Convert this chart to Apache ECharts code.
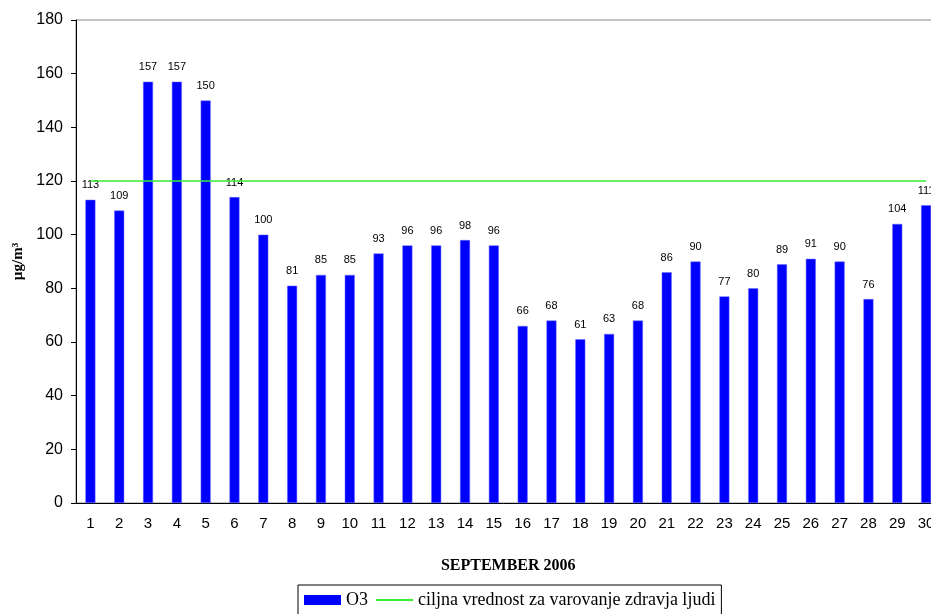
<!DOCTYPE html>
<html>
<head>
    <meta charset="utf-8">
    <title>O3 september 2006</title>
    <script src="https://cdn.jsdelivr.net/npm/echarts@6/dist/echarts.min.js"></script>
</head>
<body style="margin:0">
    <div id="chart" style="width: 931px;height:614px;"></div>
    <script type="text/javascript">
        // dnevi v mesecu
        var days = ['1','2','3','4','5','6','7','8','9','10','11','12','13','14','15',
                    '16','17','18','19','20','21','22','23','24','25','26','27','28','29','30'];
        // O3 vrednosti
        var o3 = [113, 109, 157, 157, 150, 114, 100, 81, 85, 85, 93, 96, 96, 98, 96,
                  66, 68, 61, 63, 68, 86, 90, 77, 80, 89, 91, 90, 76, 104, 111];
        // ciljna vrednost
        var target = 120;
        var targetLine = days.map(function () { return target; });

        var sans = '"Liberation Sans", Arial, sans-serif';
        var serif = '"Liberation Serif", "Times New Roman", serif';

        var myChart = echarts.init(document.getElementById('chart'));
        var option = {
            animation: false,
            grid: {
                left: 76,
                width: 864.5,
                top: 20,
                height: 483,
                outerBoundsMode: 'none',
                show: true,
                borderColor: '#888',
                borderWidth: 1
            },
            legend: {
                left: 298,
                top: 585,
                padding: [6, 6, 12, 6],
                borderColor: '#000',
                borderWidth: 1,
                itemGap: 7,
                itemWidth: 37,
                itemHeight: 10,
                textStyle: { fontFamily: serif, fontSize: 18, color: '#000' },
                data: [
                    { name: 'O3', icon: 'rect', itemStyle: { borderWidth: 0 } },
                    { name: 'ciljna vrednost za varovanje zdravja ljudi', itemStyle: { opacity: 0 } }
                ]
            },
            xAxis: {
                type: 'category',
                data: days,
                name: 'SEPTEMBER 2006',
                nameLocation: 'middle',
                nameGap: 55,
                nameTextStyle: { fontFamily: serif, fontSize: 16, fontWeight: 'bold', color: '#000' },
                axisLine: { lineStyle: { color: '#000', width: 1 } },
                axisTick: { length: 5, lineStyle: { color: '#000' } },
                axisLabel: { fontFamily: sans, fontSize: 15, color: '#000', margin: 13, interval: 0 }
            },
            yAxis: {
                type: 'value',
                min: 0,
                max: 180,
                interval: 20,
                name: 'µg/m³',
                nameLocation: 'middle',
                nameGap: 48,
                nameRotate: 90,
                nameTextStyle: { fontFamily: serif, fontSize: 15, fontWeight: 'bold', color: '#000' },
                axisLine: { show: true, lineStyle: { color: '#000', width: 1 } },
                axisTick: { show: true, length: 5, lineStyle: { color: '#000' } },
                splitLine: { show: false },
                axisLabel: { fontFamily: sans, fontSize: 16, color: '#000', margin: 13 }
            },
            series: [
                {
                    name: 'O3',
                    type: 'bar',
                    data: o3,
                    barWidth: 10,
                    itemStyle: { color: '#0000ff', borderColor: '#6a6aff', borderWidth: 0.5 },
                    label: {
                        show: true,
                        position: 'top',
                        distance: 9,
                        fontFamily: sans,
                        fontSize: 11,
                        color: '#000'
                    }
                },
                {
                    name: 'ciljna vrednost za varovanje zdravja ljudi',
                    type: 'line',
                    data: targetLine,
                    symbol: 'none',
                    lineStyle: { color: '#33ee33', width: 1.5 },
                    itemStyle: { color: '#33ee33' },
                    z: 3
                }
            ]
        };
        myChart.setOption(option);
    </script>
</body>
</html>
